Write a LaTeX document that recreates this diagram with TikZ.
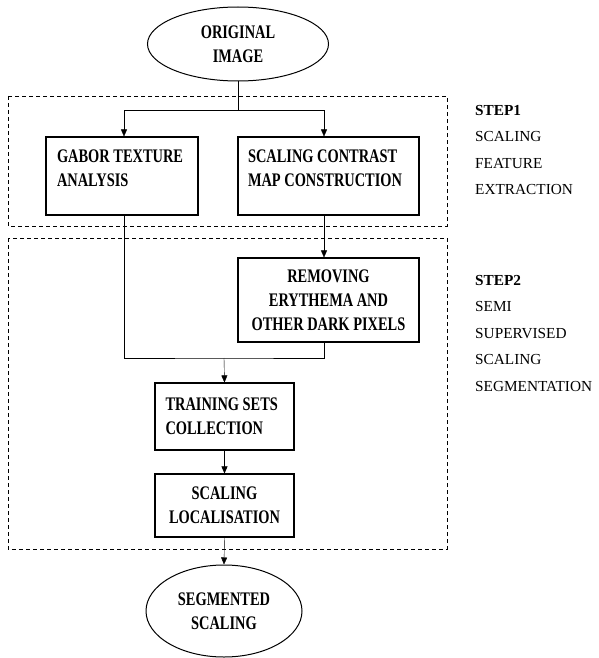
\documentclass[tikz,border=0pt]{standalone}
\usepackage{fontspec}
\setmainfont{Liberation Serif}
\newfontfamily\boxfont{Liberation Serif}[FakeStretch=0.75]
\usetikzlibrary{shapes.geometric,arrows.meta,positioning}

\begin{document}
\begin{tikzpicture}[
        x=1pt, y=-1pt,
        >={Triangle[length=7pt,width=6pt]},
        every node/.style={inner sep=0pt},
        box/.style={draw, line width=1.1pt, font=\boxfont\bfseries\fontsize{19.2}{24}\selectfont},
        oval/.style={ellipse, draw, line width=1pt, align=center, font=\boxfont\bfseries\fontsize{19.2}{24}\selectfont},
        frame/.style={dash pattern=on 4pt off 3pt, line width=0.8pt},
        note/.style={anchor=north west, align=left, font=\fontsize{15.3}{26.5}\selectfont}
    ]
        \useasboundingbox (0,0) rectangle (598,658);

        % Khung hai buoc
        \draw[frame] (8,96) rectangle (447,226);
        \draw[frame] (8,238) rectangle (447,549);

        % Cac khoi chinh
        \node [oval, minimum width=181pt, minimum height=74pt] (orig) at (238,44) {ORIGINAL\\IMAGE};
        \node [box, minimum width=152pt, minimum height=78pt, text width=130pt, align=flush left] (gabor) at (122,176) {GABOR TEXTURE\\ANALYSIS\\[-9pt]\mbox{}};
        \node [box, minimum width=181pt, minimum height=78pt, text width=161pt, align=flush left] (contrast) at (328.5,176) {SCALING CONTRAST\\MAP CONSTRUCTION\\[-9pt]\mbox{}};
        \node [box, minimum width=181pt, minimum height=84pt, align=center] (removing) at (328.5,300) {REMOVING\\ERYTHEMA AND\\OTHER DARK PIXELS};
        \node [box, minimum width=139pt, minimum height=67pt, text width=118pt, align=flush left] (training) at (224.5,416.5) {TRAINING SETS\\COLLECTION};
        \node [box, minimum width=139pt, minimum height=63pt, align=center] (local) at (224.5,505.5) {SCALING\\LOCALISATION};
        \node [oval, minimum width=156pt, minimum height=92pt] (seg) at (224,611) {SEGMENTED\\SCALING};

        % Ghi chu ben phai
        \node [note] (step1) at (475,105) {\textbf{STEP1}\\SCALING\\FEATURE\\EXTRACTION};
        \node [note] (step2) at (475,275) {\textbf{STEP2}\\SEMI\\SUPERVISED\\SCALING\\SEGMENTATION};

        % Cac mui ten
        \coordinate (split) at (238,110);
        \coordinate (merge) at (224,358);
        \draw (orig) -- (split);
        \draw[->] (split) -| ([xshift=2pt]gabor.north);
        \draw[->] (split) -| ([xshift=-4.5pt]contrast.north);
        \draw[->] ([xshift=-4.5pt]contrast.south) -- ([xshift=-4.5pt]removing.north);
        \draw ([xshift=2pt]gabor.south) |- (merge) -| ([xshift=-4.5pt]removing.south);
        \draw[->] (merge) -- (training.north);
        \draw[->] (training) -- (local);
        \draw[->] (local.south) -- (seg.north);
    \end{tikzpicture}
\end{document}
